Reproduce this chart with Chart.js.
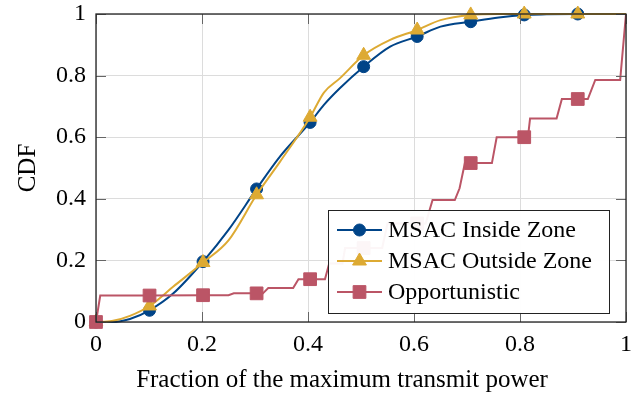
<!DOCTYPE html>
<html>
<head>
<meta charset="utf-8">
<script src="https://cdn.jsdelivr.net/npm/chart.js@4/dist/chart.umd.min.js"></script>
<style>
html, body { margin: 0; padding: 0; background: #fff; }
</style>
</head>
<body>
<canvas id="myChart" width="642" height="395"></canvas>
<script>
// shared x grid for the two MSAC curves
var gridX    = [0, 0.03, 0.064, 0.101, 0.146, 0.202, 0.25, 0.303, 0.347, 0.404, 0.43, 0.46, 0.505, 0.555, 0.606, 0.65, 0.707, 0.76, 0.808, 0.85, 0.909, 0.95, 1]
var insideY  = [0, 0, 0.01, 0.038, 0.093, 0.196, 0.299, 0.432, 0.537, 0.648, 0.705, 0.759, 0.829, 0.894, 0.927, 0.959, 0.975, 0.989, 0.997, 0.999, 1, 1, 1]
var outsideY = [0, 0.003, 0.02, 0.052, 0.115, 0.193, 0.265, 0.413, 0.52, 0.665, 0.745, 0.791, 0.866, 0.916, 0.948, 0.98, 0.997, 1, 1, 1, 1, 1, 1]

// opportunistic is a staircase
var oppX = [0, 0.008, 0.101, 0.202, 0.25, 0.26, 0.303, 0.315, 0.325, 0.372, 0.382, 0.404, 0.432, 0.44, 0.465, 0.47, 0.505, 0.54, 0.55, 0.606, 0.622, 0.635, 0.677, 0.686, 0.696, 0.707, 0.747, 0.756, 0.808, 0.815, 0.819, 0.869, 0.879, 0.909, 0.928, 0.942, 0.989, 1]
var oppY = [0, 0.086, 0.086, 0.087, 0.087, 0.093, 0.093, 0.093, 0.11, 0.11, 0.139, 0.139, 0.139, 0.19, 0.19, 0.24, 0.24, 0.24, 0.32, 0.32, 0.32, 0.396, 0.396, 0.434, 0.516, 0.516, 0.516, 0.6, 0.6, 0.6, 0.661, 0.661, 0.724, 0.724, 0.724, 0.786, 0.786, 1]

var markerX = [0, 0.101, 0.202, 0.303, 0.404, 0.505, 0.606, 0.707, 0.808, 0.909]
var tickVals = [0, 0.2, 0.4, 0.6, 0.8, 1]
var seriesNames = ["MSAC Inside Zone", "MSAC Outside Zone", "Opportunistic"]
var seriesColors = ["#004488", "#DDAA33", "#BB5566"]
var seriesMarks = ["circle", "triangle", "rect"]
var markSizes = [6, 8, 9]

var serif = "'Liberation Serif', 'Times New Roman', serif"

function pairs(xs, ys) {
    return xs.map(function (x, i) { return { x: x, y: ys[i] } })
}

function makeSet(i, pts, smooth) {
    return {
        label: seriesNames[i],
        data: pts,
        borderColor: seriesColors[i],
        backgroundColor: seriesColors[i],
        pointBackgroundColor: seriesColors[i],
        pointBorderColor: seriesColors[i],
        borderWidth: 2,
        pointBorderWidth: 1,
        pointStyle: seriesMarks[i],
        pointRadius: function (ctx) {
            var r = ctx.raw
            return r && markerX.indexOf(r.x) >= 0 ? markSizes[i] : 0
        },
        pointHoverRadius: 0,
        cubicInterpolationMode: smooth ? "monotone" : "default",
        tension: 0,
        clip: false,
        order: 3 - i
    }
}

// frame, inside ticks, legend box and axis titles
var decor = {
    id: "decor",
    afterDatasetsDraw: function (chart) {
        var c = chart.ctx, a = chart.chartArea
        var xs = chart.scales.x, ys = chart.scales.y
        c.save()
        c.strokeStyle = "#666"
        c.lineWidth = 1
        c.beginPath()
        tickVals.forEach(function (v) {
            var px = Math.round(xs.getPixelForValue(v)) + 0.5
            var py = Math.round(ys.getPixelForValue(v)) + 0.5
            c.moveTo(px, a.bottom); c.lineTo(px, a.bottom - 10)
            c.moveTo(px, a.top); c.lineTo(px, a.top + 10)
            c.moveTo(a.left, py); c.lineTo(a.left + 10, py)
            c.moveTo(a.right, py); c.lineTo(a.right - 10, py)
        })
        c.stroke()
        c.strokeStyle = "#222"
        c.lineWidth = 1.3
        c.strokeRect(a.left, a.top, a.right - a.left, a.bottom - a.top)

        // legend
        var lx = 328, ly = 210, lw = 281, lh = 103
        c.fillStyle = "rgba(255,255,255,0.95)"
        c.fillRect(lx, ly, lw, lh)
        c.strokeStyle = "#222"
        c.lineWidth = 1
        c.strokeRect(lx + 0.5, ly + 0.5, lw, lh)
        c.font = "24px " + serif
        c.textBaseline = "middle"
        c.textAlign = "left"
        for (var i = 0; i < 3; i++) {
            var yy = 230 + i * 31
            c.strokeStyle = seriesColors[i]
            c.fillStyle = seriesColors[i]
            c.lineWidth = 2
            c.beginPath(); c.moveTo(337, yy); c.lineTo(382, yy); c.stroke()
            c.lineWidth = 1
            Chart.helpers.drawPoint(c, { pointStyle: seriesMarks[i], radius: markSizes[i], rotation: 0, borderWidth: 1 }, 359.5, yy)
            c.fillStyle = "#000"
            c.fillText(seriesNames[i], 388, yy + 1)
        }

        // axis titles
        c.fillStyle = "#000"
        c.font = "25px " + serif
        c.textAlign = "center"
        c.textBaseline = "alphabetic"
        c.fillText("Fraction of the maximum transmit power", 342, 387)
        c.translate(35, 168)
        c.rotate(-Math.PI / 2)
        c.fillText("CDF", 0, 0)
        c.restore()
    }
}

var chartField = document.querySelector("#myChart").getContext("2d")

var myChart = new Chart(chartField, {
    type: "line",
    data: {
        datasets: [
            makeSet(0, pairs(gridX, insideY), true),
            makeSet(1, pairs(gridX, outsideY), true),
            makeSet(2, pairs(oppX, oppY), false)
        ]
    },
    options: {
        responsive: false,
        animation: false,
        layout: { padding: { left: 0, right: 16, top: 14, bottom: 0 } },
        plugins: { legend: { display: false }, tooltip: { enabled: false } },
        scales: {
            x: {
                type: "linear",
                min: 0, max: 1,
                afterFit: function (s) { s.height = 73; s.paddingLeft = 0; s.paddingRight = 0 },
                border: { display: false },
                grid: { color: "#dcdcdc", lineWidth: 1, drawTicks: false },
                ticks: {
                    stepSize: 0.2, padding: 8, color: "#000",
                    font: { family: serif, size: 24 },
                    callback: function (v) { return String(Math.round(v * 10) / 10) }
                }
            },
            y: {
                min: 0, max: 1,
                afterFit: function (s) { s.width = 96; s.paddingTop = 0; s.paddingBottom = 0 },
                border: { display: false },
                grid: { color: "#dcdcdc", lineWidth: 1, drawTicks: false },
                ticks: {
                    stepSize: 0.2, padding: 10, color: "#000",
                    font: { family: serif, size: 24 },
                    callback: function (v) { return String(Math.round(v * 10) / 10) }
                }
            }
        }
    },
    plugins: [decor]
});
</script>
</body>
</html>
